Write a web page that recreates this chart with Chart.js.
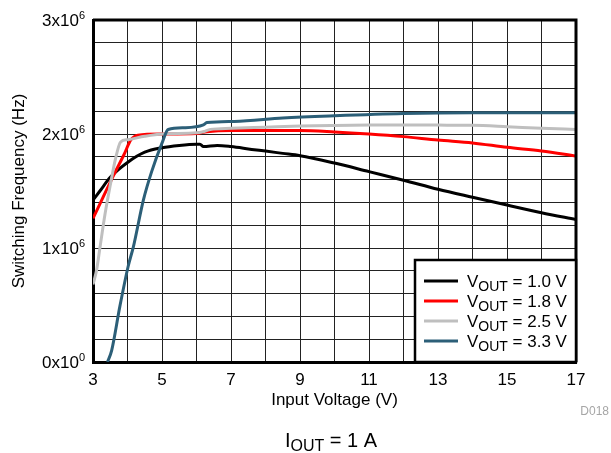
<!DOCTYPE html>
<html><head><meta charset="utf-8">
<script src="https://cdn.jsdelivr.net/npm/chart.js@4/dist/chart.umd.min.js"></script>
<style>html,body{margin:0;padding:0;background:#fff}</style>
</head><body>
<canvas id="c" width="611" height="453"></canvas>
<script>
// ---- data (frequency in Hz, input voltage in V) ----
const vinV10 = [3,3.2,3.5,4,4.5,5,5.5,6,6.1,6.2,6.6,7,7.6,8,8.5,9,10,11,12,13,14,15,16,17];
const freqV10 = [1.42e6,1.5e6,1.62e6,1.75e6,1.84e6,1.88e6,1.9e6,1.91e6,1.91e6,1.89e6,1.9e6,1.89e6,1.865e6,1.85e6,1.83e6,1.81e6,1.745e6,1.67e6,1.595e6,1.515e6,1.445e6,1.377e6,1.31e6,1.25e6];

const vinV18 = [3,3.3,3.6,3.9,4.1,4.3,5,6,6.3,7,8,9,10,11,12,13,14,15,16,17];
const freqV18 = [1.26e6,1.45e6,1.64e6,1.82e6,1.95e6,1.99e6,2.0e6,2.005e6,2.02e6,2.03e6,2.03e6,2.03e6,2.018e6,2.0e6,1.977e6,1.947e6,1.922e6,1.883e6,1.851e6,1.807e6];

const vinV25 = [3,3.1,3.2,3.35,3.5,3.65,3.8,4,4.5,5,6,6.2,6.4,7,8,9,10,11,12,13,14,15,16,17];
const freqV25 = [0.68e6,0.8e6,1.0e6,1.3e6,1.55e6,1.78e6,1.93e6,1.95e6,1.98e6,2.0e6,2.01e6,2.02e6,2.04e6,2.05e6,2.06e6,2.07e6,2.075e6,2.078e6,2.079e6,2.078e6,2.076e6,2.064e6,2.05e6,2.04e6];

const vinV33 = [3.42,3.54,3.78,4.02,4.17,4.46,4.7,5.0,5.18,5.67,6.2,6.3,7.1,8.5,10,12,14,17];
const freqV33 = [0,0.1e6,0.49e6,0.84e6,1.01e6,1.42e6,1.67e6,1.92e6,2.04e6,2.055e6,2.08e6,2.1e6,2.11e6,2.14e6,2.16e6,2.18e6,2.187e6,2.187e6];

const seriesNames = ['1.0 V','1.8 V','2.5 V','3.3 V'];
const seriesColors = ['#000000','#ff0000','#bfbfbf','#2c5f78'];
const xTickLabels = [3,5,7,9,11,13,15,17];
const yTickLabels = [[0,'0','0'],[1e6,'1','6'],[2e6,'2','6'],[3e6,'3','6']];

const FONT = '"Liberation Sans", Arial, Helvetica, sans-serif';
const toPts = (xs, ys) => xs.map((x,i)=>({x, y: ys[i]}));

const vins = [vinV10, vinV18, vinV25, vinV33];
const freqs = [freqV10, freqV18, freqV25, freqV33];

const datasets = seriesNames.map((n,i)=>({
  label: 'VOUT = ' + n,
  data: toPts(vins[i], freqs[i]),
  borderColor: seriesColors[i],
  backgroundColor: seriesColors[i],
  borderWidth: 3,
  pointRadius: 0,
  cubicInterpolationMode: 'monotone',
  fill: false,
  order: 4 - i
}));

function drawSub(ctx, x, y, main, sub, rest, size, subSize, subDrop, align) {
  ctx.font = size + 'px ' + FONT;
  const w1 = ctx.measureText(main).width;
  const w3 = ctx.measureText(rest).width;
  ctx.font = subSize + 'px ' + FONT;
  const w2 = ctx.measureText(sub).width;
  const total = w1 + w2 + w3;
  let sx = align === 'center' ? x - total/2 : x;
  ctx.textAlign = 'left';
  ctx.textBaseline = 'alphabetic';
  ctx.font = size + 'px ' + FONT;
  ctx.fillText(main, sx, y);
  ctx.font = subSize + 'px ' + FONT;
  ctx.fillText(sub, sx + w1, y + subDrop);
  ctx.font = size + 'px ' + FONT;
  ctx.fillText(rest, sx + w1 + w2, y);
}

const decor = {
  id: 'decor',
  afterDraw(chart) {
    const ctx = chart.ctx;
    const a = chart.chartArea;
    const ys = chart.scales.y;
    ctx.save();
    // top & right frame
    ctx.strokeStyle = '#000';
    ctx.lineWidth = 3;
    ctx.beginPath();
    ctx.moveTo(a.left, a.top);
    ctx.lineTo(a.right, a.top);
    ctx.lineTo(a.right, a.bottom);
    ctx.stroke();

    // y tick labels with superscript
    ctx.fillStyle = '#000';
    yTickLabels.forEach(([v, m, e]) => {
      const py = ys.getPixelForValue(v);
      ctx.font = '11px ' + FONT;
      const we = ctx.measureText(e).width;
      ctx.font = '17px ' + FONT;
      const wm = ctx.measureText(m + 'x10').width;
      const right = a.left - 8;
      ctx.textAlign = 'left';
      ctx.textBaseline = 'alphabetic';
      ctx.fillText(m + 'x10', right - we - wm, py + 6);
      ctx.font = '11px ' + FONT;
      ctx.fillText(e, right - we, py - 1);
    });

    // y title
    ctx.save();
    ctx.translate(19, (a.top + a.bottom)/2);
    ctx.rotate(-Math.PI/2);
    ctx.font = '17px ' + FONT;
    ctx.textAlign = 'center';
    ctx.textBaseline = 'middle';
    ctx.fillText('Switching Frequency (Hz)', 0, 0);
    ctx.restore();

    // x title
    ctx.font = '17px ' + FONT;
    ctx.textAlign = 'center';
    ctx.textBaseline = 'alphabetic';
    ctx.fillText('Input Voltage (V)', (a.left + a.right)/2, 405);

    // D018
    ctx.fillStyle = '#a6a6a6';
    ctx.font = '12px ' + FONT;
    ctx.textAlign = 'right';
    ctx.fillText('D018', 609, 415);

    // IOUT = 1 A
    ctx.fillStyle = '#000';
    drawSub(ctx, 331, 447, 'I', 'OUT', ' = 1 A', 20, 16, 4, 'center');

    // legend
    const lx0 = 415, ly0 = 260, lx1 = a.right, ly1 = a.bottom;
    ctx.fillStyle = '#fff';
    ctx.fillRect(lx0, ly0, lx1 - lx0, ly1 - ly0);
    ctx.strokeStyle = '#000';
    ctx.lineWidth = 2.5;
    ctx.strokeRect(lx0, ly0, lx1 - lx0, ly1 - ly0);
    seriesNames.forEach((n, i) => {
      const cy = 281 + i * 20;
      ctx.strokeStyle = seriesColors[i];
      ctx.lineWidth = 3;
      ctx.beginPath();
      ctx.moveTo(424, cy);
      ctx.lineTo(458, cy);
      ctx.stroke();
      ctx.fillStyle = '#000';
      drawSub(ctx, 467, cy + 6, 'V', 'OUT', ' = ' + n, 17, 14, 4, 'left');
    });
    ctx.restore();
  }
};

new Chart(document.getElementById('c'), {
  type: 'line',
  data: { datasets },
  options: {
    responsive: false,
    devicePixelRatio: 1,
    animation: false,
    layout: { padding: { left: 0, right: 35, top: 20, bottom: 0 } },
    plugins: { legend: { display: false }, tooltip: { enabled: false } },
    scales: {
      x: {
        type: 'linear', min: 3, max: 17,
        afterFit(s) { s.height = 91; },
        ticks: {
          stepSize: 1,
          autoSkip: false,
          maxRotation: 0,
          padding: 8,
          color: '#000',
          font: { family: FONT, size: 17 },
          callback: v => xTickLabels.includes(v) ? String(v) : ''
        },
        grid: { color: '#222', lineWidth: 1, drawTicks: false },
        border: { display: true, color: '#000', width: 3 }
      },
      y: {
        type: 'linear', min: 0, max: 3e6,
        afterFit(s) { s.width = 93; },
        ticks: { stepSize: 2e5, display: true, callback: () => '', padding: 0 },
        grid: { color: '#222', lineWidth: 1, drawTicks: false },
        border: { display: true, color: '#000', width: 3 }
      }
    }
  },
  plugins: [decor]
});
</script>
</body></html>
